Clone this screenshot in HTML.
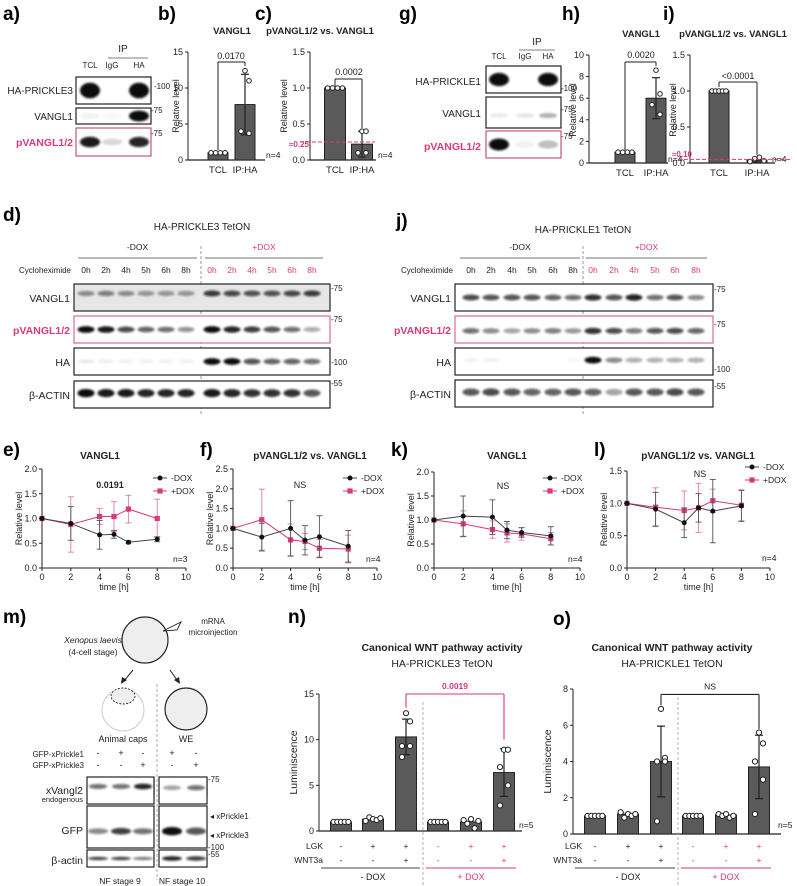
<!DOCTYPE html>
<html><head><meta charset="utf-8">
<style>
html,body{margin:0;padding:0;background:#fff;}
svg{display:block;font-family:"Liberation Sans",Arial,sans-serif;}
.pl{font-size:19px;font-weight:bold;}
</style></head>
<body>
<svg id="fig" width="797" height="886" viewBox="0 0 797 886" xmlns="http://www.w3.org/2000/svg">
<defs>
<filter id="bl" x="-50%" y="-100%" width="200%" height="300%"><feGaussianBlur stdDeviation="1.1"/></filter>
</defs>
<g>
<text class="pl" x="3" y="20">a)</text><text class="pl" x="158" y="20">b)</text><text class="pl" x="255" y="20">c)</text>
<text class="pl" x="399" y="20">g)</text><text class="pl" x="562" y="20">h)</text><text class="pl" x="663" y="20">i)</text>
<text class="pl" x="3" y="221">d)</text><text class="pl" x="396" y="227">j)</text>
<text class="pl" x="3" y="456">e)</text><text class="pl" x="200" y="456">f)</text><text class="pl" x="391" y="456">k)</text><text class="pl" x="594" y="456">l)</text>
<text class="pl" x="3" y="623">m)</text><text class="pl" x="288" y="623">n)</text><text class="pl" x="553" y="625">o)</text>
</g>
<g id="root"></g>
</svg>
<script>
// ---------------- DATA ----------------
const coipCats = ['TCL','IP:HA'];
const bVals = [1.0, 7.7];
const bSd = [0, 4.2];
const bDots = [[1,1,1,1],[12.4,11.0,4.0,3.7]];
const bTicks = [0,5,10,15];
const cVals = [1.0, 0.22];
const cSd = [0, 0.18];
const cDots = [[1,1,1,1],[0.4,0.4,0.1,0.1]];
const cTicks = [0,0.5,1.0,1.5];
const hVals = [1.0, 6.0];
const hSd = [0, 1.9];
const hDots = [[1,1,1,1],[8.6,6.4,5.4,4.5]];
const hTicks = [0,2,4,6,8,10];
const iVals = [1.0, 0.04];
const iSd = [0, 0.03];
const iDots = [[1,1,1,1,1],[0.02,0.06,0.08,0.03]];
const iTicks = [0,0.5,1.0,1.5];

const times = [0,2,4,5,6,8];
const xTicks = [0,2,4,6,8,10];
const eMinus = [1.0,0.9,0.67,0.68,0.52,0.58];
const eMinusErr = [0,0.34,0.29,0.08,0.03,0.05];
const ePlus = [1.0,0.88,1.04,1.04,1.19,1.0];
const ePlusErr = [0,0.56,0.16,0.3,0.28,0.39];
const eTicks = [0,0.5,1.0,1.5,2.0];
const fMinus = [1.0,0.78,1.0,0.7,0.79,0.55];
const fMinusErr = [0,0.35,0.7,0.37,0.53,0.4];
const fPlus = [1.0,1.22,0.71,0.67,0.5,0.48];
const fPlusErr = [0,0.77,0.4,0.2,0.22,0.35];
const fTicks = [0,0.5,1.0,1.5,2.0,2.5];
const kMinus = [1.0,1.08,1.06,0.79,0.74,0.67];
const kMinusErr = [0,0.42,0.36,0.18,0.1,0.19];
const kPlus = [1.0,0.92,0.8,0.73,0.71,0.61];
const kPlusErr = [0,0.27,0.18,0.19,0.13,0.13];
const kTicks = [0,0.5,1.0,1.5,2.0];
const lMinus = [1.0,0.91,0.7,0.93,0.88,0.96];
const lMinusErr = [0,0.26,0.23,0.22,0.49,0.24];
const lPlus = [1.0,0.94,0.89,0.93,1.04,0.97];
const lPlusErr = [0,0.3,0.3,0.38,0.18,0.24];
const lTicks = [0,0.5,1.0,1.5];

const wntLGK = ['-','+','+','-','+','+'];
const wntW3a = ['-','-','+','-','-','+'];
const nVals = [1.0,1.3,10.3,1.0,1.0,6.4];
const nSd = [0,0,1.95,0,0,2.6];
const nDots = [[1,1,1,1,1],[1.1,1.5,1.3,1.2,1.4],[12.9,12.0,9.3,9.3,8.1],[1,1,1,1,1],[1.2,0.8,1.3,0.3,1.1],[8.9,8.9,7.0,5.0,2.8]];
const nTicks = [0,5,10,15];
const oVals = [1.0,1.1,4.0,1.0,1.05,3.7];
const oSd = [0,0,1.95,0,0,1.75];
const oDots = [[1,1,1,1,1],[1.2,0.9,1.1,1.0,1.1],[6.9,4.2,4.0,4.0,0.7],[1,1,1,1,1],[1.1,1.0,1.1,0.9,1.0],[5.6,5.0,4.0,3.0,1.1]];
const oTicks = [0,2,4,6,8];

const dVangl = [0.45,0.5,0.45,0.4,0.4,0.4, 0.8,0.75,0.7,0.7,0.75,0.8];
const dPvangl = [1,0.95,0.75,0.65,0.6,0.45, 1,0.9,0.8,0.7,0.6,0.35];
const dHA = [0.08,0.06,0.05,0.05,0.05,0.05, 1,1,0.7,0.65,0.65,0.6];
const dActin = [1,0.95,0.95,0.9,0.9,0.9, 0.95,0.9,0.85,0.85,0.85,0.7];
const jVangl = [0.75,0.7,0.7,0.7,0.65,0.6, 0.85,0.7,0.9,0.6,0.7,0.5];
const jPvangl = [0.6,0.5,0.4,0.5,0.55,0.45, 0.85,0.75,0.55,0.7,0.75,0.65];
const jHA = [0.05,0.05,0,0,0,0.03, 1,0.5,0.35,0.35,0.35,0.35];
const jActin = [0.7,0.75,0.7,0.65,0.65,0.7, 0.65,0.4,0.7,0.7,0.75,0.7];

// ---------------- HELPERS ----------------
const NS='http://www.w3.org/2000/svg';
const root=document.getElementById('root');
const PINK='#d63a7c';
function el(tag,attrs,parent,text){const e=document.createElementNS(NS,tag);for(const k in attrs)e.setAttribute(k,attrs[k]);if(text!=null)e.textContent=text;(parent||root).appendChild(e);return e;}
function grp(name){const g=el('g',{});return g;}
function txt(g,x,y,s,o){o=o||{};return el('text',Object.assign({x:x,y:y,'font-size':o.fs||9,'text-anchor':o.a||'start',fill:o.c||'#222','font-weight':o.b?'bold':'normal','font-style':o.i?'italic':'normal'},o.tr?{transform:o.tr}:{}),g,s);}
function ln(g,x1,y1,x2,y2,c,w,d){return el('line',Object.assign({x1:x1,y1:y1,x2:x2,y2:y2,stroke:c||'#222','stroke-width':w||1},d?{'stroke-dasharray':d}:{}),g);}

function yAxis(g,cfg,ticks,fmt){
  const y=v=>cfg.yBot-(v/cfg.vmax)*(cfg.yBot-cfg.yTop);
  ln(g,cfg.x0,cfg.yTop,cfg.x0,cfg.yBot,'#222',1);
  ticks.forEach(t=>{ln(g,cfg.x0-3,y(t),cfg.x0,y(t));
    const lb=txt(g,cfg.x0-5,y(t)+3,fmt?fmt(t):String(t),{a:'end',fs:cfg.fs||9});
    
  });
  return y;
}

function barChart(name,cfg,cats,vals,sds,dots,ticks,fmt){
  const g=grp(name);
  const y=yAxis(g,cfg,ticks,fmt);
  ln(g,cfg.x0,cfg.yBot,cfg.xEnd,cfg.yBot,'#222',1.2);
  cats.forEach((c,i)=>{
    const cx=cfg.centers[i], w=cfg.w;
    const r=el('rect',{x:cx-w/2,y:y(vals[i]),width:w,height:cfg.yBot-y(vals[i]),fill:'#5a5a5a',stroke:'#222','stroke-width':1},g);
    
    
    if(sds[i]>0){
      ln(g,cx,y(vals[i]-sds[i]),cx,y(vals[i]+sds[i]),'#222',1.2);
      ln(g,cx-4,y(vals[i]+sds[i]),cx+4,y(vals[i]+sds[i]),'#222',1.2);
      ln(g,cx-4,y(vals[i]-sds[i]),cx+4,y(vals[i]-sds[i]),'#222',1.2);
    }
    const d=dots[i], n=d.length, sp=w*0.7;
    d.forEach((v,k)=>{
      const dx = n>1 ? -sp/2 + k*sp/(n-1) : 0;
      const big = (Math.max(...d)-Math.min(...d))>ticks[ticks.length-1]*0.08;
      const px = big ? cx + ((k%2)?4:-4)*(k===0?0:1) : cx+dx;
      const p=el('circle',{cx:px,cy:y(v),r:cfg.dr||2.3,fill:'#fff',stroke:'#222','stroke-width':1},g);
      
      
    });
    if(cfg.catLabels){const l=txt(g,cx,cfg.yBot+13,c,{a:'middle',fs:9.5});}
  });
  return {g:g,y:y};
}

function lineChart(name,cfg,times,m,me,p,pe,ticks){
  const g=grp(name);
  const y=yAxis(g,cfg,ticks,t=>t.toFixed(1));
  const x=t=>cfg.x0+t/10*(cfg.x1-cfg.x0);
  ln(g,cfg.x0,cfg.yBot,cfg.x1,cfg.yBot,'#222',1);
  xTicks.forEach(t=>{ln(g,x(t),cfg.yBot,x(t),cfg.yBot+3);const l=txt(g,x(t),cfg.yBot+12,String(t),{a:'middle',fs:9});});
  const tl=txt(g,(cfg.x0+cfg.x1)/2,cfg.yBot+22,'time [h]',{a:'middle',fs:9});
  
  const yt=txt(g,0,0,'Relative level',{a:'middle',fs:9,tr:`translate(${cfg.x0-20},${(cfg.yTop+cfg.yBot)/2}) rotate(-90)`});
  
  [[p,pe,PINK,'plus'],[m,me,'#222','minus']].forEach(([vals,errs,col,nm])=>{
    const lc = nm==='plus'? '#e07aa4':'#555';
    vals.forEach((v,i)=>{ if(errs[i]>0){
      ln(g,x(times[i]),y(v-errs[i]),x(times[i]),y(v+errs[i]),lc,0.9);
      ln(g,x(times[i])-3,y(v+errs[i]),x(times[i])+3,y(v+errs[i]),lc,0.9);
      ln(g,x(times[i])-3,y(v-errs[i]),x(times[i])+3,y(v-errs[i]),lc,0.9);}});
    const pl=el('polyline',{points:vals.map((v,i)=>x(times[i])+','+y(v)).join(' '),fill:'none',stroke:col==='#222'?'#444':PINK,'stroke-width':1},g);
    
    vals.forEach((v,i)=>{
      let mk;
      if(nm==='plus') mk=el('rect',{x:x(times[i])-2.6,y:y(v)-2.6,width:5.2,height:5.2,fill:PINK},g);
      else mk=el('circle',{cx:x(times[i]),cy:y(v),r:2.5,fill:'#111'},g);
      
      
    });
  });
  const lg=grp('legend');
  ln(lg,cfg.lx-7,cfg.ly,cfg.lx+7,cfg.ly,'#444');el('circle',{cx:cfg.lx,cy:cfg.ly,r:2.5,fill:'#111'},lg);
  txt(lg,cfg.lx+11,cfg.ly+3,'-DOX',{fs:8.5});
  ln(lg,cfg.lx-7,cfg.ly+13,cfg.lx+7,cfg.ly+13,PINK);el('rect',{x:cfg.lx-2.6,y:cfg.ly+10.4,width:5.2,height:5.2,fill:PINK},lg);
  txt(lg,cfg.lx+11,cfg.ly+16,'+DOX',{fs:8.5});
  return g;
}

function blot(name,x,y,w,h,lanes,vals,opt){
  opt=opt||{};
  const g=grp(name);
  el('rect',{x:x,y:y,width:w,height:h,fill:opt.bg||'#fff'},g);
  const inner=el('g',{filter:'url(#bl)'},g);
  lanes.forEach((lx,i)=>{
    if(vals[i]<=0) return;
    const b=el('ellipse',{cx:lx,cy:y+h*(opt.pos||0.5),rx:opt.rx||8.5,ry:(opt.ry||2.6)*(0.7+0.5*vals[i]),fill:'#111','fill-opacity':Math.min(1,vals[i])},inner);
    
  });
  el('rect',{x:x,y:y,width:w,height:h,fill:'none',stroke:opt.stroke||'#222','stroke-width':1.2},g);
  return g;
}

// ---------------- PANEL a ----------------
(function(){
  const g=grp('panel-a-coip-blot');
  txt(g,123,52,'IP',{a:'middle',fs:10});ln(g,108,58,148,58,'#555',0.8);
  txt(g,90,68,'TCL',{a:'middle',fs:8});txt(g,112,68,'IgG',{a:'middle',fs:8});txt(g,139,68,'HA',{a:'middle',fs:8});
  blot('blot-ha-prickle3',76,77,75,27,[90,112,139],[1,0,1],{rx:10,ry:6.5});
  blot('blot-vangl1',76,108,75,16,[90,112,139],[0.05,0.03,1],{rx:10,ry:4.5});
  blot('blot-pvangl',76,128,75,28,[90,112,139],[0.95,0.15,0.9],{rx:10,ry:4.5,stroke:'#c0567f'});
  txt(g,73,94,'HA-PRICKLE3',{a:'end',fs:10});txt(g,73,120,'VANGL1',{a:'end',fs:10});
  txt(g,73,146,'pVANGL1/2',{a:'end',fs:10.5,b:true,c:PINK});
  txt(g,154,89,'-100',{fs:8});txt(g,151,113,'-75',{fs:8});txt(g,151,136,'-75',{fs:8});
})();
// b
(function(){
  const r=barChart('panel-b-chart',{x0:188,yTop:52,yBot:160,vmax:15,xEnd:265,w:20,centers:[218,245],catLabels:true},coipCats,bVals,bSd,bDots,bTicks);
  const g=r.g;
  txt(g,232,34,'VANGL1',{a:'middle',fs:9.5,b:true});
  txt(g,0,0,'Relative level',{a:'middle',fs:9,tr:'translate(179,106) rotate(-90)'});
  ln(g,218,62,245,62);ln(g,218,62,218,150);ln(g,245,62,245,66);
  txt(g,231,59,'0.0170',{a:'middle',fs:9});
  txt(g,266,158,'n=4',{fs:8.5});
})();
// c
(function(){
  const r=barChart('panel-c-chart',{x0:310,yTop:52,yBot:160,vmax:1.5,xEnd:376,w:21,centers:[335,362],catLabels:true},coipCats,cVals,cSd,cDots,cTicks,t=>t.toFixed(1));
  const g=r.g;
  txt(g,320,34,'pVANGL1/2 vs. VANGL1',{a:'middle',fs:9.5,b:true});
  txt(g,0,0,'Relative level',{a:'middle',fs:9,tr:'translate(287,106) rotate(-90)'});
  ln(g,300,r.y(0.25),375,r.y(0.25),PINK,1,'4,2');
  txt(g,289,147,'≈0.25',{fs:8,b:true,c:PINK});
  ln(g,335,79,362,79);ln(g,335,79,335,86);ln(g,362,79,362,128);
  txt(g,349,75,'0.0002',{a:'middle',fs:9});
  txt(g,378,158,'n=4',{fs:8.5});
})();
// g
(function(){
  const g=grp('panel-g-coip-blot');
  txt(g,537,45,'IP',{a:'middle',fs:10});ln(g,519,50,555,50,'#555',0.8);
  txt(g,499,59,'TCL',{a:'middle',fs:8});txt(g,525,59,'IgG',{a:'middle',fs:8});txt(g,548,59,'HA',{a:'middle',fs:8});
  blot('blot-ha-prickle1',486,66,75,27,[499,525,548],[1,0,1],{rx:10,ry:5.5});
  blot('blot-vangl1-g',486,97,75,31,[499,525,548],[0.08,0.1,0.3],{rx:9,ry:3,pos:0.6});
  blot('blot-pvangl-g',486,131,75,27,[499,525,548],[1,0.05,0.25],{rx:10,ry:5,stroke:'#c0567f'});
  txt(g,481,85,'HA-PRICKLE1',{a:'end',fs:10});txt(g,481,117,'VANGL1',{a:'end',fs:10});
  txt(g,481,150,'pVANGL1/2',{a:'end',fs:10.5,b:true,c:PINK});
  txt(g,561,91,'-100',{fs:8});txt(g,561,112,'-75',{fs:8});txt(g,561,139,'-75',{fs:8});
})();
// h
(function(){
  const r=barChart('panel-h-chart',{x0:589,yTop:55,yBot:163,vmax:10,xEnd:668,w:20,centers:[625,656],catLabels:true},coipCats,hVals,hSd,hDots,hTicks);
  const g=r.g;
  txt(g,641,37,'VANGL1',{a:'middle',fs:9.5,b:true});
  txt(g,0,0,'Relative level',{a:'middle',fs:9,tr:'translate(576,110) rotate(-90)'});
  ln(g,625,62,656,62);ln(g,625,62,625,150);ln(g,656,62,656,66);
  txt(g,641,58,'0.0020',{a:'middle',fs:9});
  txt(g,668,162,'n=4',{fs:8.5});
})();
// i
(function(){
  const r=barChart('panel-i-chart',{x0:690,yTop:55,yBot:163,vmax:1.5,xEnd:775,w:20,centers:[719,757],catLabels:true},coipCats,iVals,iSd,iDots,iTicks,t=>t.toFixed(1));
  const g=r.g;
  txt(g,733,37,'pVANGL1/2 vs. VANGL1',{a:'middle',fs:9.5,b:true});
  txt(g,0,0,'Relative level',{a:'middle',fs:9,tr:'translate(676,110) rotate(-90)'});
  ln(g,678,r.y(0.05),792,r.y(0.05),PINK,1,'4,2');
  txt(g,672,157,'≈0.10',{fs:8,b:true,c:PINK});
  ln(g,719,82,757,82);ln(g,719,82,719,87);ln(g,757,82,757,155);
  txt(g,738,79,'<0.0001',{a:'middle',fs:9});
  txt(g,772,162,'n=4',{fs:8.5});
})();

// ---------------- d / j ----------------
function tcBlot(name,cfg){
  const g=grp(name);
  txt(g,cfg.tx,cfg.ty,cfg.title,{a:'middle',fs:10});
  txt(g,(cfg.l1[0]+cfg.l1[1])/2,250,'-DOX',{a:'middle',fs:8.5});ln(g,cfg.l1[0],258,cfg.l1[1],258,'#444',0.8);
  txt(g,(cfg.l2[0]+cfg.l2[1])/2,250,'+DOX',{a:'middle',fs:8.5,c:PINK});ln(g,cfg.l2[0],258,cfg.l2[1],258,'#444',0.8);
  txt(g,cfg.chx,273,'Cycloheximide',{a:'end',fs:8});
  const hs=['0h','2h','4h','5h','6h','8h'];
  cfg.lanes.forEach((lx,i)=>txt(g,lx,273,hs[i%6],{a:'middle',fs:8.5,c:i<6?'#222':PINK}));
  const rows=[['VANGL1',cfg.vals[0],cfg.rows[0]],['pVANGL1/2',cfg.vals[1],cfg.rows[1]],['HA',cfg.vals[2],cfg.rows[2]],['β-ACTIN',cfg.vals[3],cfg.rows[3]]];
  rows.forEach(([lab,v,ry],k)=>{
    blot('blot-row-'+lab,cfg.bx,ry,cfg.bw,27,cfg.lanes,v,{rx:8.5,ry:k===3?3.5:2.8,stroke:k===1?'#d36d96':'#222',bg:(k===0&&cfg.grey)?'#e6e6e6':'#fff',pos:cfg.pos[k]});
    txt(g,cfg.bx-4,ry+18,lab,{a:'end',fs:10.5,b:k===1,c:k===1?PINK:'#222'});
  });
  cfg.mw.forEach(m=>txt(g,cfg.bx+cfg.bw+1,m[1],'-'+m[0],{fs:8}));
  ln(g,cfg.dash,246,cfg.dash,416,'#999',1,'3,2');
}
const dLanes=[86,106,126,146,166,186,212,232,252,272,292,312];
const jLanes=[471,491,512,532,553,573,593,614,634,655,675,696];
tcBlot('panel-d-blot',{title:'HA-PRICKLE3 TetON',tx:202,ty:230,l1:[78,197],l2:[205,323],chx:71,lanes:dLanes,bx:74,bw:256,rows:[284,316,348,381],vals:[dVangl,dPvangl,dHA,dActin],grey:true,pos:[0.35,0.5,0.5,0.45],mw:[['75',291],['75',322],['100',365],['55',386]],dash:201});
tcBlot('panel-j-blot',{title:'HA-PRICKLE1 TetON',tx:583,ty:233,l1:[460,580],l2:[586,707],chx:453,lanes:jLanes,bx:455,bw:258,rows:[284,316,348,380],vals:[jVangl,jPvangl,jHA,jActin],grey:false,pos:[0.5,0.55,0.45,0.45],mw:[['75',292],['75',327],['100',372],['55',389]],dash:583});

// ---------------- e f k l ----------------
(function(){
  const g=lineChart('panel-e-chart',{x0:42,x1:186,yTop:469,yBot:568,vmax:2.0,lx:160,ly:478},times,eMinus,eMinusErr,ePlus,ePlusErr,eTicks);
  txt(g,100,459,'VANGL1',{a:'middle',fs:10,b:true});txt(g,110,488,'0.0191',{a:'middle',fs:9,b:true});txt(g,173,562,'n=3',{fs:8.5});
  const g2=lineChart('panel-f-chart',{x0:233,x1:377,yTop:469,yBot:568,vmax:2.5,lx:350,ly:478},times,fMinus,fMinusErr,fPlus,fPlusErr,fTicks);
  txt(g2,310,459,'pVANGL1/2 vs. VANGL1',{a:'middle',fs:10,b:true});txt(g2,300,488,'NS',{a:'middle',fs:9});txt(g2,366,562,'n=4',{fs:8.5});
  const g3=lineChart('panel-k-chart',{x0:434,x1:580,yTop:472,yBot:568,vmax:2.0,lx:550,ly:478},times,kMinus,kMinusErr,kPlus,kPlusErr,kTicks);
  txt(g3,507,459,'VANGL1',{a:'middle',fs:10,b:true});txt(g3,503,489,'NS',{a:'middle',fs:9});txt(g3,568,562,'n=4',{fs:8.5});
  const g4=lineChart('panel-l-chart',{x0:627,x1:770,yTop:471,yBot:568,vmax:1.5,lx:752,ly:467},times,lMinus,lMinusErr,lPlus,lPlusErr,lTicks);
  txt(g4,698,459,'pVANGL1/2 vs. VANGL1',{a:'middle',fs:10,b:true});txt(g4,700,477,'NS',{a:'middle',fs:9});txt(g4,762,561,'n=4',{fs:8.5});
})();

// ---------------- m ----------------
(function(){
  const g=grp('panel-m-xenopus');
  el('circle',{cx:145,cy:640,r:23,fill:'#eee',stroke:'#222','stroke-width':1.2},g);
  el('polygon',{points:'163,631 181,622 177,630',fill:'#fff',stroke:'#222','stroke-width':0.9},g);
  txt(g,93,643,'Xenopus laevis',{a:'middle',fs:8.5,i:true});txt(g,93,655,'(4-cell stage)',{a:'middle',fs:8.5});
  txt(g,213,624,'mRNA',{a:'middle',fs:8});txt(g,213,635,'microinjection',{a:'middle',fs:8});
  ln(g,133,670,124,681,'#222',1);el('polygon',{points:'121,684 122,677 127,680',fill:'#222'},g);
  ln(g,170,670,177,680,'#222',1);el('polygon',{points:'180,684 174,680 179,677',fill:'#222'},g);
  el('circle',{cx:123,cy:710,r:21,fill:'#fff',stroke:'#ccc','stroke-width':1},g);
  el('ellipse',{cx:123,cy:696,rx:12,ry:8,fill:'#eee',stroke:'#222','stroke-width':0.9,'stroke-dasharray':'2,1.5'},g);
  el('circle',{cx:186,cy:709,r:21,fill:'#eee',stroke:'#222','stroke-width':1.2},g);
  txt(g,123,742,'Animal caps',{a:'middle',fs:9});txt(g,186,742,'WE',{a:'middle',fs:9});
  ln(g,157,684,157,880,'#aaa',1,'3,2');
  txt(g,84,757,'GFP-xPrickle1',{a:'end',fs:8});txt(g,84,768,'GFP-xPrickle3',{a:'end',fs:8});
  [[98,'-','-'],[121,'+','-'],[143,'-','+'],[172,'+','-'],[196,'-','+']].forEach(c=>{txt(g,c[0],756,c[1],{a:'middle',fs:9});txt(g,c[0],768,c[2],{a:'middle',fs:9});});
  blot('blot-xvangl2-l',87,777,67,27,[98,121,143],[0.6,0.6,0.9],{rx:9,ry:2.5,pos:0.35});
  blot('blot-xvangl2-r',159,777,48,27,[172,196],[0.4,0.6],{rx:9,ry:2.5,pos:0.4});
  blot('blot-gfp-l',87,806,67,42,[98,121,143],[0.5,0.8,0.6],{rx:10,ry:3,pos:0.6});
  blot('blot-gfp-r',159,806,48,42,[172,196],[1,0.7],{rx:10,ry:3.5,pos:0.6});
  el('ellipse',{cx:121,cy:815,rx:10,ry:4,fill:'#111',filter:'url(#bl)'},g);
  el('ellipse',{cx:172,cy:814,rx:10,ry:6,fill:'#111',filter:'url(#bl)'},g);
  blot('blot-bactin-l',87,850,67,17,[98,121,143],[0.8,0.8,0.6],{rx:10,ry:1.5});
  blot('blot-bactin-r',159,850,48,17,[172,196],[0.9,0.8],{rx:10,ry:2});
  el('rect',{x:134,y:778,width:20,height:16,fill:'none',stroke:PINK,'stroke-width':1.3},g);
  el('rect',{x:188,y:779,width:19,height:16,fill:'none',stroke:PINK,'stroke-width':1.3},g);
  txt(g,83,794,'xVangl2',{a:'end',fs:10.5});txt(g,83,802,'endogenous',{a:'end',fs:7.5});
  txt(g,83,834,'GFP',{a:'end',fs:10.5});txt(g,83,864,'β-actin',{a:'end',fs:10.5});
  txt(g,208,782,'-75',{fs:8});txt(g,208,850,'-100',{fs:8});txt(g,208,857,'-55',{fs:8});
  txt(g,210,819,'◂ xPrickle1',{fs:8});txt(g,210,838,'◂ xPrickle3',{fs:8});
  txt(g,120,884,'NF stage 9',{a:'middle',fs:8.5});txt(g,182,884,'NF stage 10',{a:'middle',fs:8.5});
})();

// ---------------- n / o ----------------
function wnt(name,cfg,vals,sds,dots,ticks,sigText,sigCol,br){
  const r=barChart(name,{x0:cfg.x0,yTop:cfg.yTop,yBot:cfg.yBot,vmax:cfg.vmax,xEnd:cfg.xEnd,w:21,centers:cfg.centers,dr:2.6},wntLGK,vals,sds,dots,ticks);
  const g=r.g;
  txt(g,cfg.tx,651,'Canonical WNT pathway activity',{a:'middle',fs:10.5,b:true});
  txt(g,cfg.tx,667,cfg.sub,{a:'middle',fs:10.5});
  txt(g,0,0,'Luminiscence',{a:'middle',fs:10.5,tr:`translate(${cfg.x0-22},${(cfg.yTop+cfg.yBot)/2}) rotate(-90)`});
  const c=cfg.centers, by=r.y(br[0]);
  ln(g,c[2],by,c[5],by,sigCol,1.1);ln(g,c[2],by,c[2],r.y(br[1]),sigCol,1.1);ln(g,c[5],by,c[5],r.y(br[2]),sigCol,1.1);
  txt(g,(c[2]+c[5])/2,by-5,sigText,{a:'middle',fs:8.5,c:sigCol,b:sigCol!=='#222'});
  ln(g,cfg.dash,cfg.yTop+8,cfg.dash,886,'#aaa',0.9,'3,2');
  txt(g,cfg.lgkx,849,'LGK',{a:'end',fs:8.5});txt(g,cfg.lgkx,863,'WNT3a',{a:'end',fs:8.5});
  wntLGK.forEach((s,i)=>{const col=i<3?'#222':PINK;txt(g,c[i],849,s,{a:'middle',fs:8.5,c:col});txt(g,c[i],863,wntW3a[i],{a:'middle',fs:8.5,c:col});});
  ln(g,c[0]-20,868,c[2]+14,868,'#444',0.9);ln(g,c[3]-12,868,c[5]+12,868,PINK,0.9);
  txt(g,c[1],880,'- DOX',{a:'middle',fs:9});txt(g,c[4],880,'+ DOX',{a:'middle',fs:9,c:PINK});
  txt(g,cfg.xEnd-3,828,'n=5',{fs:8.5});
}
wnt('panel-n-chart',{x0:319,yTop:694,yBot:831,vmax:15,xEnd:522,centers:[341,373,406,438,471,504],tx:442,sub:'HA-PRICKLE3 TetON',dash:423,lgkx:323},nVals,nSd,nDots,nTicks,'0.0019',PINK,[15,13.5,10]);
wnt('panel-o-chart',{x0:573,yTop:689,yBot:834,vmax:8,xEnd:781,centers:[595,628,661,693,726,759],tx:672,sub:'HA-PRICKLE1 TetON',dash:678,lgkx:582},oVals,oSd,oDots,oTicks,'NS','#222',[7.7,7.1,5.8]);
</script>
</body></html>
